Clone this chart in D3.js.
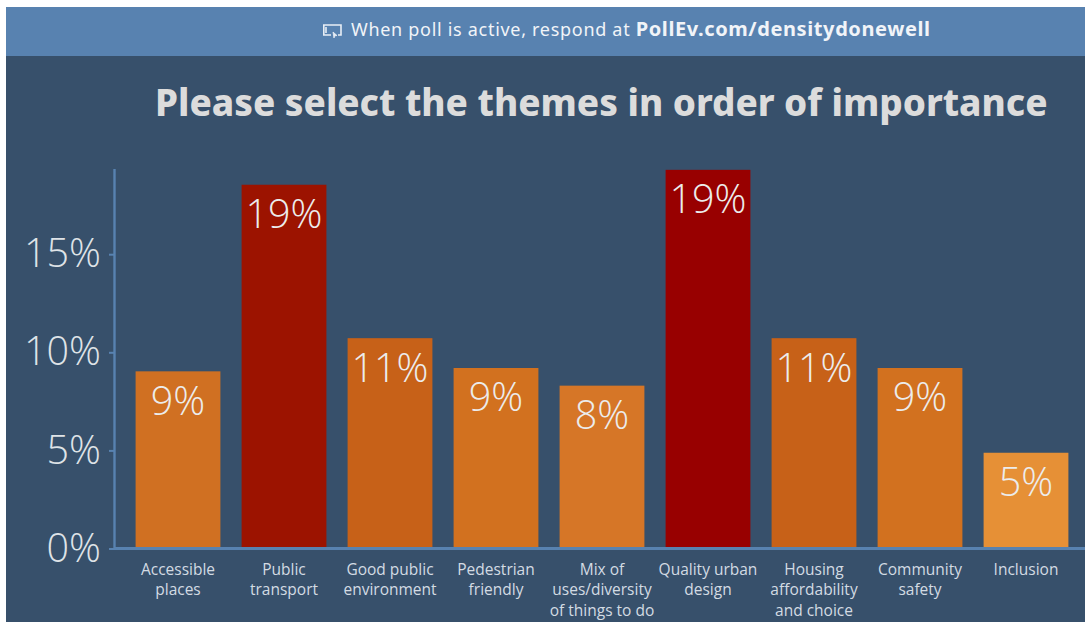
<!DOCTYPE html>
<html>
<head>
<meta charset="utf-8">
<script src="https://cdn.jsdelivr.net/npm/d3@7"></script>
<style>
html,body{margin:0;padding:0;background:#fff;overflow:hidden}
svg{display:block}
</style>
</head>
<body>
<svg id="chart" width="1085" height="622"></svg>
<script>
// Poll results: share of votes per theme
const themes = [
  ["Accessible","places"],
  ["Public","transport"],
  ["Good public","environment"],
  ["Pedestrian","friendly"],
  ["Mix of","uses/diversity","of things to do"],
  ["Quality urban","design"],
  ["Housing","affordability","and choice"],
  ["Community","safety"],
  ["Inclusion"]
];
const shares = [9.03, 18.54, 10.72, 9.2, 8.3, 19.3, 10.72, 9.2, 4.88];
const barColors = ["#d07022","#9c1300","#c76118","#d2711f","#d67627","#980000","#c76118","#d2711f","#e69036"];
const yTicks = [0, 5, 10, 15];
const headerLead = "When poll is active, respond at ";
const headerLink = "PollEv.com/densitydonewell";
const titleText = "Please select the themes in order of importance";

const svg = d3.select("#chart");
const uiFont = "'Noto Sans', sans-serif";
const chartFont = "'Open Sans', sans-serif";

// Slide background and header strip
svg.append("rect").attr("x",6).attr("y",7).attr("width",1079).attr("height",615).attr("fill","#37506b");
svg.append("rect").attr("x",6).attr("y",7).attr("width",1079).attr("height",49).attr("fill","#5882b0");

// Screen-with-cursor glyph in the header
const icon = svg.append("g").attr("transform","translate(323,24)")
  .attr("fill","none").attr("stroke","#e8eef5").attr("stroke-width",1.6);
icon.append("path").attr("d","M15 11H18V1H0.8V11H8");
icon.append("path").attr("d","M3 3V9");
icon.append("path").attr("d","M10 8L14 11.5L11.5 12L11 14Z").attr("fill","#e8eef5").attr("stroke-width",0.8);

const header = svg.append("text").attr("x",351).attr("y",36)
  .attr("font-family",uiFont).attr("font-size",18).attr("letter-spacing",0.7).attr("fill","#f1f4f8");
header.append("tspan").text(headerLead);
header.append("tspan").attr("font-weight",700).attr("font-size",20).attr("letter-spacing",0.6).text(headerLink);

svg.append("text").attr("x",155).attr("y",116)
  .attr("font-family",uiFont).attr("font-weight",800).attr("font-size",36.8)
  .attr("fill","#dcdcdc").text(titleText);

// Scales
const x = d3.scaleBand().domain(d3.range(themes.length)).range([125,1079]).paddingInner(0.2).paddingOuter(0.1);
const y = d3.scaleLinear().domain([0,19.3]).range([548.5,548.5-19.3*19.62]);

// Bars, stopping just above the baseline
svg.append("g").selectAll("rect").data(shares).join("rect")
  .attr("x",(d,i)=>x(i)).attr("width",x.bandwidth())
  .attr("y",d=>y(d)).attr("height",d=>y(0)-y(d)-1)
  .attr("fill",(d,i)=>barColors[i]);

// Rounded value inside each bar
svg.append("g").selectAll("text").data(shares).join("text")
  .attr("x",(d,i)=>x(i)+x.bandwidth()/2).attr("y",d=>y(d)+43.5)
  .attr("text-anchor","middle").attr("font-family",chartFont).attr("font-weight",350).attr("font-size",39.5)
  .attr("fill","#ececec").text(d=>Math.round(d)+"%");

// Y axis
const yAxis = svg.append("g").attr("transform","translate(114,0)")
  .call(d3.axisLeft(y).tickValues(yTicks).tickFormat(d=>d+"%").tickSize(5).tickPadding(8));
yAxis.select(".domain").remove();
yAxis.selectAll("line").attr("stroke","#5882b0").attr("stroke-width",2);
yAxis.selectAll("text").attr("font-family",chartFont).attr("font-weight",350).attr("font-size",39.5).attr("fill","#dfe3e7");
svg.append("line").attr("x1",114.5).attr("x2",114.5).attr("y1",169).attr("y2",y(0))
  .attr("stroke","#5882b0").attr("stroke-width",2.4);
svg.append("line").attr("x1",114).attr("x2",1085).attr("y1",y(0)).attr("y2",y(0))
  .attr("stroke","#5882b0").attr("stroke-width",3);

// Category labels, one line of text per row
const catGroups = svg.append("g").selectAll("text").data(themes).join("text")
  .attr("text-anchor","middle").attr("font-family",chartFont).attr("font-size",15.5).attr("fill","#d3dbe3");
catGroups.selectAll("tspan").data((d,i)=>d.map(line=>({line,i}))).join("tspan")
  .attr("x",d=>x(d.i)+x.bandwidth()/2)
  .attr("y",(d,j)=>574.5+j*20.8)
  .text(d=>d.line);
</script>
</body>
</html>
